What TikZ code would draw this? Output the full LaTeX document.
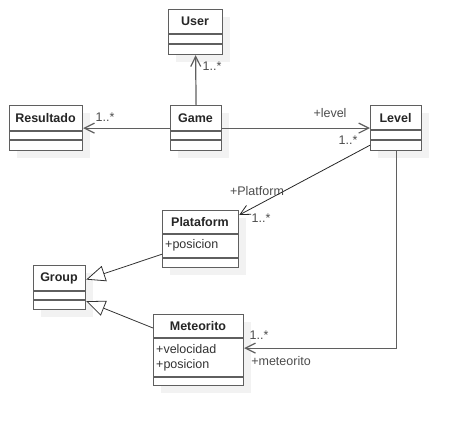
\documentclass[tikz,border=0pt]{standalone}
\usepackage{fontspec}
\setmainfont{Liberation Sans}
\usetikzlibrary{arrows.meta,shadows}
\definecolor{linegray}{HTML}{5F5F5F}
\tikzset{
  umlclass/.style={draw=linegray, line width=1.2pt, fill=white, inner sep=0pt, anchor=north west,
    drop shadow={shadow xshift=7pt, shadow yshift=-7pt, fill=black!5, opacity=1}},
  ctitle/.style={font=\fontsize{12.5}{14}\selectfont\bfseries, text=black!85, inner sep=0pt},
  cattr/.style={font=\fontsize{12.5}{15}\selectfont, anchor=west, text=black!80, inner sep=0pt},
  rolelab/.style={font=\fontsize{12.5}{14}\selectfont, text=black!70, inner sep=0pt},
  compline/.style={draw=linegray, line width=1.2pt},
  assoc/.style={draw=linegray, line width=1.2pt, -{Straight Barb[length=10pt,width=10pt]}},
  inherit/.style={draw=black!80, line width=0.8pt, -{Triangle[open,length=19pt,width=16pt,fill=white]}},
}

\begin{document}
\begin{tikzpicture}[x=1pt,y=-1pt]
            \useasboundingbox (0,0) rectangle (460,426);

            % classes
            \node[umlclass, minimum width=54pt, minimum height=45pt] (user) at (168,9) {};
            \node[umlclass, minimum width=73pt, minimum height=45pt] (resultado) at (9,105) {};
            \node[umlclass, minimum width=51pt, minimum height=45pt] (game) at (170,105) {};
            \node[umlclass, minimum width=51pt, minimum height=45pt] (level) at (370,105) {};
            \node[umlclass, minimum width=76pt, minimum height=57pt] (plataform) at (162,210) {};
            \node[umlclass, minimum width=52pt, minimum height=44pt] (group) at (33,265) {};
            \node[umlclass, minimum width=90pt, minimum height=71pt] (meteorito) at (153,314) {};

            % compartments
            \draw[compline] (168,34) -- (222,34);
            \draw[compline] (168,44) -- (222,44);
            \draw[compline] (9,131) -- (82,131);
            \draw[compline] (9,140) -- (82,140);
            \draw[compline] (170,131) -- (221,131);
            \draw[compline] (170,140) -- (221,140);
            \draw[compline] (370,130) -- (421,130);
            \draw[compline] (370,140) -- (421,140);
            \draw[compline] (162,234) -- (238,234);
            \draw[compline] (162,258) -- (238,258);
            \draw[compline] (33,291) -- (85,291);
            \draw[compline] (33,300) -- (85,300);
            \draw[compline] (153,338) -- (243,338);
            \draw[compline] (153,377) -- (243,377);

            % names and attributes
            \node[ctitle] (usertitle) at (195,21.5) {User};
            \node[ctitle] (resultadotitle) at (45.5,118) {Resultado};
            \node[ctitle] (gametitle) at (195.5,118) {Game};
            \node[ctitle] (leveltitle) at (395.5,118) {Level};
            \node[ctitle] (plataformtitle) at (200,222.5) {Plataform};
            \node[ctitle] (grouptitle) at (59,278.5) {Group};
            \node[ctitle] (meteoritotitle) at (198,326.5) {Meteorito};
            \node[cattr] (platpos) at (165,245.5) {+posicion};
            \node[cattr] (metvel) at (156,349) {+velocidad};
            \node[cattr] (metpos) at (156,365.5) {+posicion};

            % associations
            \draw[assoc] (game.north) -- (user.south);
            \draw[assoc] (game.west) -- (resultado.east);
            \draw[assoc] (game.east) -- (level.west);
            \draw[assoc, draw=black!85, line width=0.8pt] ([yshift=6pt]level.south west) -- ([yshift=-5pt]plataform.north east);
            \draw[assoc] (level.south) |- ([yshift=2pt]meteorito.east);

            % generalisations
            \draw[inherit] ([yshift=14pt]plataform.south west) -- ([yshift=8pt]group.east);
            \draw[inherit] ([yshift=-14pt]meteorito.north west) -- ([yshift=9pt]group.south east);

            % multiplicities and roles
            \node[rolelab] (userm) at (212,66) {1..*};
            \node[rolelab] (resultadom) at (105,117) {1..*};
            \node[rolelab] (levelr) at (330,113) {+level};
            \node[rolelab] (levelm) at (348,140) {1..*};
            \node[rolelab] (platr) at (257,191) {+Platform};
            \node[rolelab] (platm) at (261,218) {1..*};
            \node[rolelab] (metm) at (259,335) {1..*};
            \node[rolelab] (metr) at (281,361) {+meteorito};
        \end{tikzpicture}
\end{document}
